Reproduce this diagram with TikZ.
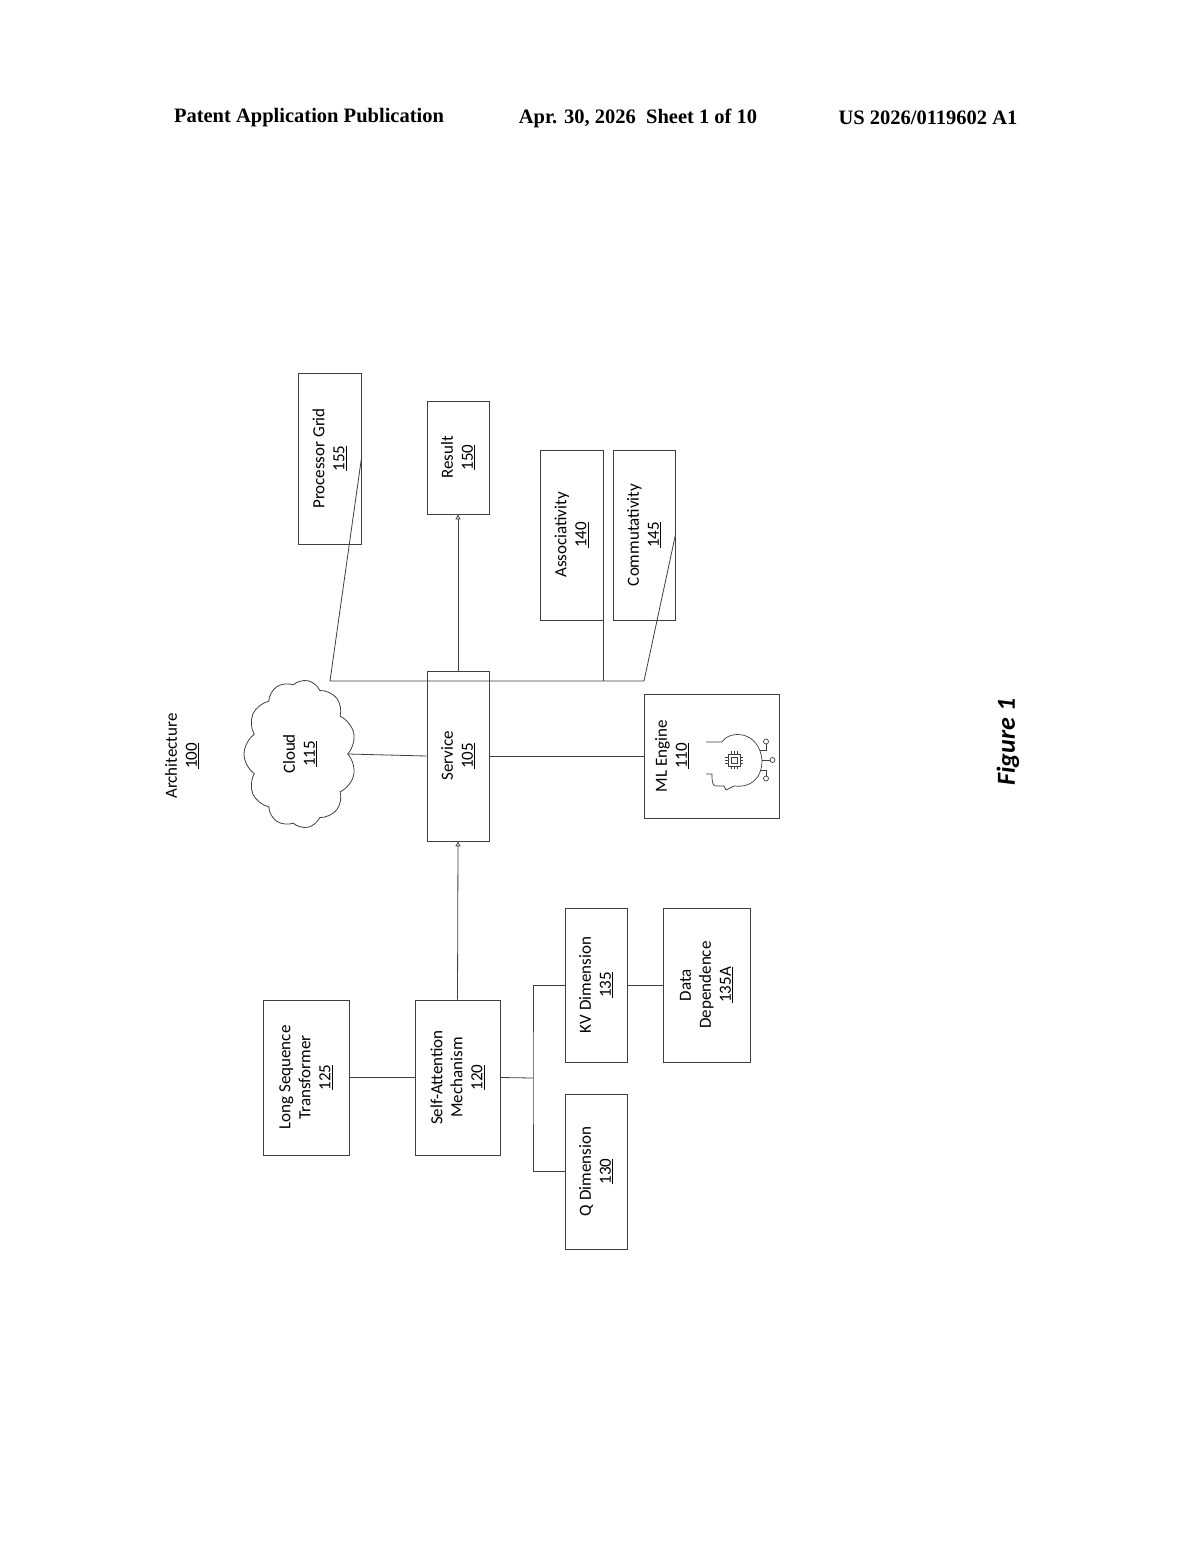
\documentclass[tikz,border=0pt]{standalone}
\usepackage{fontspec}
\setmainfont{Carlito}
\newfontfamily\hdr{Liberation Serif}
\usetikzlibrary{shapes.symbols,arrows.meta}
\begin{document}
\begin{tikzpicture}[x=1pt,y=-1pt,
  ln/.style={draw=black!75,line width=0.8pt},
  box/.style={ln,rectangle,rotate=90,align=center,font=\fontsize{17}{20}\selectfont,inner sep=2pt},
  arr/.style={ln,-{Triangle[open,length=5pt,width=5pt]}}]
\useasboundingbox (0,0) rectangle (1200,1547);
\fill[white] (0,0) rectangle (1200,1547);
\node[font=\hdr\bfseries\fontsize{20.5}{24}\selectfont] (h1) at (309,118) {Patent Application Publication};
\node[font=\hdr\bfseries\fontsize{20.5}{24}\selectfont] (h2) at (638,118) {Apr. 30, 2026\ \ Sheet 1 of 10};
\node[font=\hdr\bfseries\fontsize{20.5}{24}\selectfont] (h3) at (928,118) {US 2026/0119602 A1};
\node[rotate=90,align=center,font=\fontsize{17}{20}\selectfont] (arch) at (182,756) {Architecture\\\underline{100}};
\node[rotate=90,font=\bfseries\itshape\fontsize{26}{30}\selectfont] (fig) at (1008,742) {Figure 1};
% boxes: minimum width = vertical extent, minimum height = horizontal extent
\node[box,minimum width=170pt,minimum height=62pt] (svc) at (458,756) {Service\\\underline{105}};
\node[box,minimum width=124pt,minimum height=135pt] (ml) at (712,756) {};
\node[rotate=90,align=center,font=\fontsize{17}{20}\selectfont] (mlt) at (672,756) {ML Engine\\\underline{110}};
\node[box,minimum width=171pt,minimum height=63pt] (pg) at (329.5,458.5) {Processor Grid\\\underline{155}};
\node[box,minimum width=113pt,minimum height=62pt] (res) at (458,457.5) {Result\\\underline{150}};
\node[box,minimum width=170pt,minimum height=63pt] (asc) at (571.5,535) {Associativity\\\underline{140}};
\node[box,minimum width=170pt,minimum height=62pt] (com) at (644,535) {Commutativity\\\underline{145}};
\node[box,minimum width=155pt,minimum height=86pt] (lst) at (306,1077.5) {Long Sequence\\Transformer\\\underline{125}};
\node[box,minimum width=155pt,minimum height=85pt] (sam) at (457.5,1077.5) {Self-Attention\\Mechanism\\\underline{120}};
\node[box,minimum width=154pt,minimum height=62pt] (kv) at (596,985) {KV Dimension\\\underline{135}};
\node[box,minimum width=154pt,minimum height=87pt] (dd) at (706.5,985) {Data\\Dependence\\\underline{135A}};
\node[box,minimum width=155pt,minimum height=62pt] (qd) at (596,1171.5) {Q Dimension\\\underline{130}};
\node[cloud,cloud puffs=11,cloud puff arc=110,aspect=0.8,ln,rotate=90,minimum width=148pt,minimum height=112pt,align=center,font=\fontsize{17}{20}\selectfont] (cl) at (300,754) {Cloud\\\underline{115}};
% ML icon
\begin{scope}[shift={(734,760)},rotate=-90,ln,line width=0.7pt]
 \draw (-18,28) -- (-18,12) .. controls (-30,5) and (-30,-25) .. (0,-28) .. controls (20,-28) and (28,-15) .. (26,0) -- (30,8) -- (26,10) -- (26,18) .. controls (26,22) and (20,22) .. (14,22) -- (14,28);
 \draw (-6,-6) rectangle (6,6); \draw (-3,-3) rectangle (3,3);
 \foreach \t in {-3,0,3}{\draw (\t,-6)--(\t,-9) (\t,6)--(\t,9) (-6,\t)--(-9,\t) (6,\t)--(9,\t);}
 \draw (0,-28)--(0,-36); \draw (0,-38.5) circle (2.5);
 \draw (-10,-26)--(-10,-32)--(-16,-32); \draw (-18.5,-32) circle (2.5);
 \draw (10,-26)--(10,-32)--(16,-32); \draw (18.5,-32) circle (2.5);
\end{scope}
% connectors
\coordinate (b1) at (330,681); \coordinate (b2) at (644,681);
\draw[ln] (pg.south) -- (b1) -- (svc.north west |- b1);
\draw[ln] (svc.north east |- b2) -- (b2) -- (com.south);
\draw[ln] (asc.south) -- (asc.south |- b2);
\draw[arr] (svc.east) -- (res.west);
\draw[ln] (cl.south) -- (svc.north);
\draw[ln] (svc.south) -- (ml.north);
\draw[arr] (sam.east) -- (svc.west);
\draw[ln] (lst.south) -- (sam.north);
\coordinate (v) at (533,1078);
\draw[ln] (sam.south) -- (v);
\draw[ln] (kv.north) -| (v) |- (qd.north);
\draw[ln] (kv.south) -- (dd.north);
\end{tikzpicture}
\end{document}
